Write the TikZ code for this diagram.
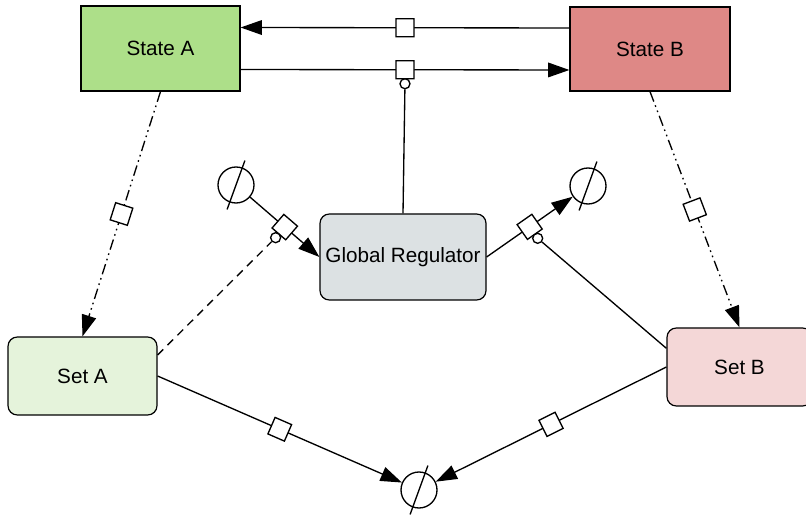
\documentclass[tikz,border=0pt]{standalone}
\usepackage{fontspec}
\setmainfont{Liberation Sans}
\usetikzlibrary{calc, positioning}
\usetikzlibrary{arrows.meta}

\definecolor{stateAfill}{RGB}{173,223,137}
\definecolor{stateBfill}{RGB}{222,136,134}
\definecolor{regfill}{RGB}{220,225,227}
\definecolor{setAfill}{RGB}{229,243,219}
\definecolor{setBfill}{RGB}{244,215,215}

\begin{document}
\begin{tikzpicture}[x=0.75pt, y=0.75pt,
  every node/.style={font=\fontsize{15.5}{18}\selectfont},
  statebox/.style={draw, line width=0.9pt, inner sep=0pt},
  setbox/.style={statebox, rounded corners=7pt},
  proc/.style={draw, solid, fill=white, line width=1pt, minimum size=13.5pt, inner sep=0pt, sloped},
  cat/.style={circle, draw, solid, fill=white, line width=1pt, minimum size=7.5pt, inner sep=0pt},
  emptyset/.style={circle, draw, line width=1pt, minimum size=27pt, inner sep=0pt},
  flow/.style={line width=1pt, -{Triangle[length=16pt, width=11pt]}},
  dashdotdot/.style={dash pattern=on 8pt off 3pt on 1.2pt off 3pt on 1.2pt off 3pt}
]
\def\shift{15.75pt}
\def\catdist{10.5pt}
\useasboundingbox (0,0) rectangle (806,521);

\node[statebox, fill=stateAfill, minimum width=119.25pt, minimum height=63.75pt] (stateA) at (160.5,472.5) {State A};
\node[statebox, fill=stateBfill, minimum width=120pt, minimum height=63pt] (stateB) at (650,472) {State B};
\node[setbox, fill=regfill, minimum width=124.5pt, minimum height=64.5pt] (reg) at (403,264) {Global Regulator};
\node[setbox, fill=setAfill, minimum width=111.75pt, minimum height=58.5pt] (setA) at (82.5,145) {Set A};
\node[setbox, fill=setBfill, minimum width=108.75pt, minimum height=58.5pt] (setB) at (739.5,154) {Set B};

\node[emptyset] (e1) at (236,336) {};
\node[emptyset] (e2) at (588,335) {};
\node[emptyset] (e3) at (419,31) {};
\foreach \e in {e1,e2,e3}
  \draw[line width=1pt] ($(\e)+(70:19.5pt)$) -- ($(\e)+(250:19.5pt)$);

\draw[flow] ([yshift=\shift]stateB.west) -- node[proc] (p1) {} ([yshift=\shift]stateA.east);
\draw[flow] ([yshift=-\shift]stateA.east) -- node[proc] (p2) {} ([yshift=-\shift]stateB.west);
\draw[flow, dashdotdot] (stateA.south) -- node[proc] (p3) {} (setA.north);
\draw[flow, dashdotdot] (stateB.south) -- node[proc] (p4) {} (setB.north);
\draw[flow] (e1) -- node[proc] (p5) {} (reg.west);
\draw[flow] (reg.east) -- node[proc] (p6) {} (e2);
\draw[flow] (setA.east) -- node[proc] (p7) {} (e3);
\draw[flow] (setB.west) -- node[proc] (p8) {} (e3);

\node[cat] (c2) at ($(p2.center)!\catdist!(p2.south)$) {};
\node[cat] (c5) at ($(p5.center)!\catdist!(p5.south)$) {};
\node[cat] (c6) at ($(p6.center)!\catdist!(p6.south)$) {};

\draw[line width=1pt] (reg.north) -- (c2);
\draw[line width=1pt, dash pattern=on 6pt off 4.5pt] ([yshift=\shift]setA.east) -- (c5);
\draw[line width=1pt] ([yshift=14pt]setB.west) -- (c6);
\end{tikzpicture}
\end{document}
